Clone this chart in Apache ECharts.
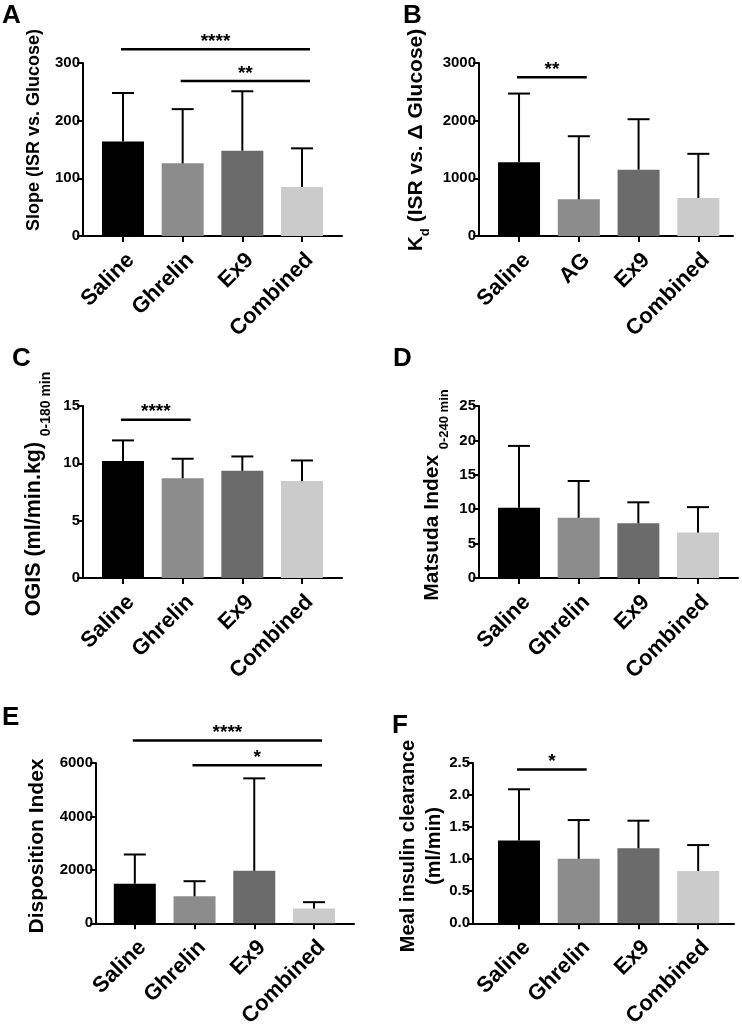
<!DOCTYPE html>
<html>
<head>
<meta charset="utf-8">
<script src="https://cdn.jsdelivr.net/npm/echarts@6/dist/echarts.min.js"></script>
<style>html,body{margin:0;padding:0;background:#fff;}#c{width:742px;height:1030px;}</style>
</head>
<body>
<div id="c"></div>
<script>
// ---------- data ----------
const catsA = ['Saline', 'Ghrelin', 'Ex9', 'Combined'];
const catsB = ['Saline', 'AG', 'Ex9', 'Combined'];

const meanA = [164, 126, 148, 85];
const upperA = [248, 220, 251, 152];
const meanB = [1280, 636, 1150, 660];
const upperB = [2470, 1730, 2025, 1425];
const meanC = [10.2, 8.7, 9.35, 8.45];
const upperC = [12.0, 10.4, 10.6, 10.25];
const meanD = [10.2, 8.75, 7.95, 6.6];
const upperD = [19.2, 14.1, 11.0, 10.3];
const meanE = [1480, 1010, 1965, 550];
const upperE = [2575, 1575, 5425, 790];
const meanF = [1.29, 1.005, 1.17, 0.815];
const upperF = [2.09, 1.61, 1.60, 1.22];

// significance comparisons: [fromIndex, toIndex, level, label]
const sigA = [[0, 3, 324, '****'], [1, 3, 269, '**']];
const sigB = [[0, 1, 2752, '**']];
const sigC = [[0, 1, 13.8, '****']];
const sigD = [];
const sigE = [[0, 3, 6840, '****'], [1, 3, 5920, '*']];
const sigF = [[0, 1, 2.40, '*']];

const yMaxes = [300, 3000, 15, 25, 6000, 2.5];
const yIntervals = [100, 1000, 5, 5, 2000, 0.5];

// ---------- styling / layout ----------
const FONT = '"Liberation Sans", Arial, Helvetica, sans-serif';
const barColors = ['#000000', '#8c8c8c', '#6b6b6b', '#cbcbcb'];

const panels = [
  { cats: catsA, mean: meanA, upper: upperA, sig: sigA, grid: { left: 83, top: 63, width: 259, height: 173 }, xr: [-0.67, 3.67] },
  { cats: catsB, mean: meanB, upper: upperB, sig: sigB, grid: { left: 479, top: 63, width: 254, height: 173 }, xr: [-0.67, 3.58] },
  { cats: catsA, mean: meanC, upper: upperC, sig: sigC, grid: { left: 83, top: 406, width: 259, height: 172 }, xr: [-0.67, 3.67] },
  { cats: catsA, mean: meanD, upper: upperD, sig: sigD, grid: { left: 479, top: 406, width: 259, height: 172 }, xr: [-0.67, 3.67] },
  { cats: catsA, mean: meanE, upper: upperE, sig: sigE, grid: { left: 96, top: 763, width: 258, height: 171 }, xr: [-0.65, 3.67] },
  { cats: catsA, mean: meanF, upper: upperF, sig: sigF, grid: { left: 473, top: 763, width: 261, height: 171 }, xr: [-0.77, 3.6] }
];

const grids = [], xAxes = [], yAxes = [], series = [];

panels.forEach((p, k) => {
  grids.push(Object.assign({ containLabel: false }, p.grid));
  xAxes.push({
    type: 'value', gridIndex: k, min: p.xr[0], max: p.xr[1],
    splitLine: { show: false },
    axisLine: { show: true, onZero: false, lineStyle: { color: '#000', width: 2 } },
    axisTick: { show: true, customValues: [0, 1, 2, 3], length: 6, lineStyle: { color: '#000', width: 2 } },
    axisLabel: {
      show: true, customValues: [0, 1, 2, 3], rotate: 45, margin: 13,
      align: 'right', verticalAlign: 'top',
      formatter: v => p.cats[Math.round(v)] || '',
      color: '#000', fontWeight: 'bold', fontSize: 22, fontFamily: FONT
    }
  });
  yAxes.push({
    type: 'value', gridIndex: k, min: 0, max: yMaxes[k], interval: yIntervals[k],
    splitLine: { show: false },
    axisLine: { show: true, onZero: false, lineStyle: { color: '#000', width: 2 } },
    axisTick: { show: true, length: 6, lineStyle: { color: '#000', width: 2 } },
    axisLabel: {
      margin: 3, color: '#000', fontWeight: 'bold', fontSize: 15, fontFamily: FONT,
      formatter: v => (k === 5 ? v.toFixed(1) : String(v))
    }
  });
  series.push({
    type: 'bar', xAxisIndex: k, yAxisIndex: k, barWidth: 42, z: 2,
    data: p.mean.map((v, i) => ({ value: [i, v], itemStyle: { color: barColors[i] } }))
  });
  series.push({
    type: 'custom', xAxisIndex: k, yAxisIndex: k, z: 3, clip: false,
    data: p.mean.map((v, i) => [i, v, p.upper[i]]),
    encode: { x: 0, y: [1, 2] },
    renderItem: (params, api) => {
      const x = api.value(0);
      const a = api.coord([x, api.value(1)]);
      const b = api.coord([x, api.value(2)]);
      return {
        type: 'group', children: [
          { type: 'line', shape: { x1: a[0], y1: a[1], x2: b[0], y2: b[1] }, style: { stroke: '#000', lineWidth: 2 } },
          { type: 'line', shape: { x1: b[0] - 11, y1: b[1], x2: b[0] + 11, y2: b[1] }, style: { stroke: '#000', lineWidth: 2 } }
        ]
      };
    }
  });
  if (p.sig.length) {
    series.push({
      type: 'custom', xAxisIndex: k, yAxisIndex: k, z: 4, clip: false,
      data: p.sig.map(s => [s[0], s[1], s[2]]),
      encode: { x: [0, 1], y: 2 },
      renderItem: (params, api) => {
        const a = api.coord([api.value(0), api.value(2)]);
        const b = api.coord([api.value(1), api.value(2)]);
        const label = p.sig[params.dataIndex][3];
        return {
          type: 'group', children: [
            { type: 'line', shape: { x1: a[0] - 2, y1: a[1], x2: b[0] + 8, y2: b[1] }, style: { stroke: '#000', lineWidth: 2.5 } },
            { type: 'text', x: (a[0] + b[0] + 6) / 2, y: a[1] + 2,
              style: { text: label, font: 'bold 19px ' + FONT, fill: '#000', align: 'center', verticalAlign: 'bottom' } }
          ]
        };
      }
    });
  }
});

// ---------- text: panel letters & axis titles ----------
const letter = (t, x, y) => ({ type: 'text', x, y, style: { text: t, font: 'bold 26px ' + FONT, fill: '#000', align: 'left', verticalAlign: 'top' } });
const ytitle = (x, y, text, rich) => ({
  type: 'text', x, y, rotation: Math.PI / 2,
  style: { text, rich: rich || {}, font: 'bold 20px ' + FONT, fill: '#000', align: 'center', verticalAlign: 'middle' }
});
const subRich = (mainSize, subSize, shift) => ({
  m: { fontSize: mainSize, fontWeight: 'bold', fontFamily: FONT, fill: '#000', verticalAlign: 'bottom', padding: [0, 0, shift, 0] },
  s: { fontSize: subSize, fontWeight: 'bold', fontFamily: FONT, fill: '#000', verticalAlign: 'bottom' }
});

const graphic = [
  letter('A', 2, 3), letter('B', 403, 3), letter('C', 12, 346), letter('D', 393, 346), letter('E', 2, 705), letter('F', 392, 713),
  ytitle(34, 130, '{m|Slope (ISR vs. Glucose)}', { m: { fontSize: 18, fontWeight: 'bold', fontFamily: FONT, fill: '#000' } }),
  ytitle(419, 140, '{m|K}{s|d}{m| (ISR vs. Δ Glucose)}', subRich(21, 13, 5)),
  ytitle(38, 494, '{m|OGIS (ml/min.kg)} {s|0-180 min}', subRich(21.5, 14, 8)),
  ytitle(436, 495, '{m|Matsuda Index} {s|0-240 min}', subRich(21, 13, 8)),
  ytitle(37, 846, '{m|Disposition Index}', { m: { fontSize: 21, fontWeight: 'bold', fontFamily: FONT, fill: '#000' } }),
  ytitle(421, 846, '{m|Meal insulin clearance}\n{m|(ml/min)}', { m: { fontSize: 20, lineHeight: 26, fontWeight: 'bold', fontFamily: FONT, fill: '#000' } })
];

const chart = echarts.init(document.getElementById('c'), null, { renderer: 'canvas' });
chart.setOption({
  animation: false,
  backgroundColor: '#fff',
  textStyle: { fontFamily: FONT },
  grid: grids, xAxis: xAxes, yAxis: yAxes, series, graphic
});
</script>
</body>
</html>
